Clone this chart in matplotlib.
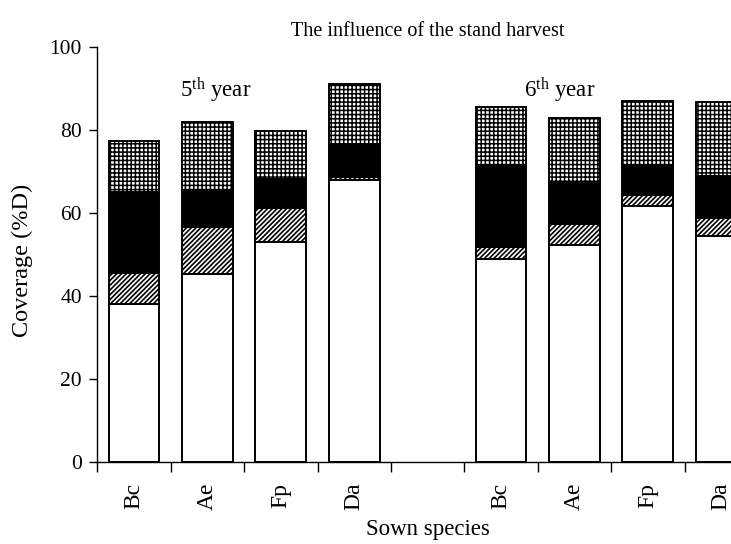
import matplotlib
matplotlib.use("Agg")
import matplotlib.pyplot as plt
import numpy as np

species = ["Bc", "Ae", "Fp", "Da", "", "Bc", "Ae", "Fp", "Da"]
# stacked segments (bottom to top); index 4 is the empty gap slot
white_seg  = [38.1, 45.3, 52.9, 68.0, 0, 48.8, 52.3, 61.8, 54.5]
hatch_seg  = [7.5, 11.3, 8.4, 0.6, 0, 2.9, 5.0, 2.5, 4.2]
black_seg  = [19.5, 8.9, 7.0, 7.8, 0, 19.9, 10.0, 7.3, 10.3]
dotted_seg = [12.2, 16.5, 11.5, 14.8, 0, 13.9, 15.5, 15.5, 17.7]
year_labels = ["5", "6"]

plt.rcParams['font.family'] = ['Liberation Serif', 'DejaVu Serif']
plt.rcParams['hatch.color'] = 'black'

fig = plt.figure(figsize=(7.31, 5.44), dpi=100)
ax = fig.add_axes([97.3/731, 1-462/544, 660.6/731, 415/544])

x = np.arange(len(species))
mask = np.array([s != "" for s in species])
xs = x[mask]
w = np.array(white_seg)[mask]
h = np.array(hatch_seg)[mask]
b = np.array(black_seg)[mask]
d = np.array(dotted_seg)[mask]

bw = 0.69
kw = dict(width=bw, edgecolor='black', linewidth=1.4)
ax.bar(xs, w, color='white', **kw)
with plt.rc_context({'hatch.linewidth': 1.2}):
    ax.bar(xs, h, bottom=w, color='white', hatch='/' * 7, **kw)
ax.bar(xs, b, bottom=w+h, color='black', **kw)
with plt.rc_context({'hatch.linewidth': 1.1}):
    ax.bar(xs, d, bottom=w+h+b, color='white', hatch='+' * 4, **kw)

ax.set_xlim(-0.5, len(species)-0.5)
ax.set_ylim(0, 100)
ax.set_yticks([0, 20, 40, 60, 80, 100])
ax.set_xticks(np.arange(-0.5, len(species), 1.0))
ax.set_xticklabels([])
ax.set_xticks(xs, minor=True)
ax.set_xticklabels([species[i] for i in xs], minor=True, rotation=90, fontsize=17)
ax.tick_params(axis='x', which='major', direction='out', length=7, width=1)
ax.tick_params(axis='x', which='minor', length=0, pad=15)
ax.tick_params(axis='y', direction='out', length=6, width=1, labelsize=15.5, pad=5)
for s in ['top', 'right']:
    ax.spines[s].set_visible(False)
for s in ['left', 'bottom']:
    ax.spines[s].set_linewidth(1.0)

ax.set_ylabel("Coverage (%D)", fontsize=17.5)
ax.yaxis.set_label_coords(-0.097, 0.487)
ax.set_xlabel("Sown species", fontsize=16.5, labelpad=6)
ax.set_title("The influence of the stand harvest", fontsize=14.5, pad=8)

ax.text(0.627, 88, r"$\mathregular{%s^{th}}$ year" % year_labels[0], fontsize=16.5, ha='left', va='baseline')
ax.text(5.313, 88, r"$\mathregular{%s^{th}}$ year" % year_labels[1], fontsize=16.5, ha='left', va='baseline')

fig.savefig("out.png", dpi=100)
